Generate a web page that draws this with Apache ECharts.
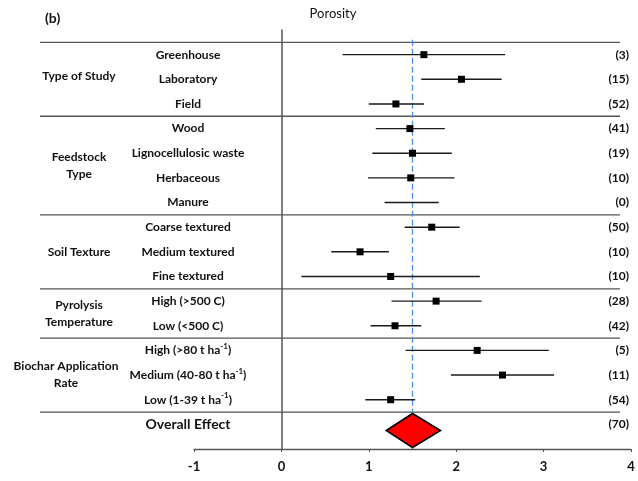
<!DOCTYPE html>
<html>
<head>
<meta charset="utf-8">
<script src="https://cdn.jsdelivr.net/npm/echarts@6/dist/echarts.min.js"></script>
<style>
  html, body { margin: 0; padding: 0; background: #fff; }
  #chart { width: 638px; height: 481px; }
</style>
</head>
<body>
<div id="chart"></div>
<script>
// subgroup rows, top to bottom
const rows = [
  'Greenhouse', 'Laboratory', 'Field',
  'Wood', 'Lignocellulosic waste', 'Herbaceous', 'Manure',
  'Coarse textured', 'Medium textured', 'Fine textured',
  'High (>500 C)', 'Low (<500 C)',
  'High (>80 t ha{sup|-1})', 'Medium (40-80 t ha{sup|-1})', 'Low (1-39 t ha{sup|-1})'
];
const means = [1.63, 2.06, 1.31, 1.47, 1.50, 1.48, null, 1.72, 0.90, 1.25, 1.77, 1.30, 2.24, 2.53, 1.25];
const lower = [0.70, 1.60, 1.00, 1.08, 1.04, 0.99, 1.18, 1.41, 0.57, 0.23, 1.26, 1.02, 1.42, 1.94, 0.96];
const upper = [2.56, 2.52, 1.63, 1.87, 1.95, 1.98, 1.80, 2.04, 1.23, 2.27, 2.29, 1.60, 3.06, 3.12, 1.53];
const counts = [3, 15, 52, 41, 19, 10, 0, 50, 10, 10, 28, 42, 5, 11, 54];

const overall = { mean: 1.5, lower: 1.2, upper: 1.82, n: 70 };

const groups = ['Type of Study', 'Feedstock\nType', 'Soil Texture', 'Pyrolysis\nTemperature', 'Biochar Application\nRate'];
const groupFirst = [0, 3, 7, 10, 12];
const groupLast = [2, 6, 9, 11, 14];

const xTicks = [-1, 0, 1, 2, 3, 4];

const overallRow = rows.length;
const font = 'Lato, "Liberation Sans", sans-serif';

const chart = echarts.init(document.getElementById('chart'));

const barData = rows.map((r, i) => [means[i], i, lower[i], upper[i]]);

function renderBar(params, api) {
  const row = api.value(1);
  const a = api.coord([api.value(2), row]);
  const b = api.coord([api.value(3), row]);
  const children = [{
    type: 'line',
    shape: { x1: a[0], y1: a[1], x2: b[0], y2: b[1] },
    style: { stroke: '#1a1a1a', lineWidth: 1.4 }
  }];
  const m = api.value(0);
  if (!isNaN(m)) {
    const c = api.coord([m, row]);
    children.push({
      type: 'rect',
      shape: { x: c[0] - 3.5, y: c[1] - 3.5, width: 7, height: 7 },
      style: { fill: '#000' }
    });
  }
  return { type: 'group', children };
}

function renderDiamond(params, api) {
  const row = api.value(1);
  const c = api.coord([api.value(0), row]);
  const l = api.coord([api.value(2), row]);
  const r = api.coord([api.value(3), row]);
  const h = api.size([0, 0.69])[1];
  return {
    type: 'polygon',
    shape: { points: [[l[0], c[1]], [c[0], c[1] - h], [r[0], c[1]], [c[0], c[1] + h]] },
    style: { fill: '#ff0000', stroke: '#000', lineWidth: 1.6 }
  };
}

const option = {
  animation: false,
  textStyle: { fontFamily: font },
  grid: { left: 194, right: 7, top: 30, bottom: 32, containLabel: false },
  xAxis: {
    type: 'value',
    min: -1, max: 4, interval: 1,
    axisLine: { onZero: false, lineStyle: { color: '#555', width: 1.3 } },
    axisTick: { inside: false, length: 3, lineStyle: { color: '#555' } },
    axisLabel: { color: '#111', fontWeight: 'bold', fontSize: 13, margin: 11,
      formatter: v => xTicks.includes(v) ? String(v) : '' },
    splitLine: { show: false }
  },
  yAxis: [{
    type: 'value',
    inverse: true,
    min: -1, max: 16, interval: 1,
    axisLine: { onZero: true, lineStyle: { color: '#555', width: 1.5 } },
    axisTick: { show: false },
    splitLine: { show: false },
    axisLabel: {
      align: 'center',
      margin: 6,
      color: '#111',
      fontSize: 12,
      fontWeight: 'bold',
      formatter: v => {
        if (v === overallRow) return '{big|Overall Effect}';
        return rows[v] !== undefined ? rows[v] : '';
      },
      rich: {
        sup: { fontSize: 8, fontWeight: 'bold', color: '#111', verticalAlign: 'top', lineHeight: 16, padding: [0, 0, 6, 0] },
        big: { fontSize: 14, fontWeight: 'bold', color: '#111' }
      }
    }
  }, {
    type: 'value',
    position: 'right',
    inverse: true,
    min: -1, max: 16, interval: 1,
    axisLine: { show: false },
    axisTick: { show: false },
    splitLine: { show: false },
    axisLabel: {
      inside: true,
      margin: 2,
      color: '#111',
      fontSize: 12,
      fontWeight: 'bold',
      formatter: v => {
        if (v === overallRow) return '(' + overall.n + ')';
        return counts[v] !== undefined ? '(' + counts[v] + ')' : '';
      }
    }
  }],
  series: [{
    type: 'line',
    yAxisIndex: 0,
    data: [[overall.mean, -0.6], [overall.mean, 16]],
    symbol: 'none',
    lineStyle: { color: '#4a8fe7', width: 1.3, type: [6, 3] },
    z: 1
  }, {
    type: 'custom',
    yAxisIndex: 0,
    renderItem: renderBar,
    encode: { x: [2, 3], y: 1 },
    data: barData,
    z: 3
  }, {
    type: 'custom',
    yAxisIndex: 0,
    renderItem: renderDiamond,
    encode: { x: [2, 3], y: 1 },
    data: [[overall.mean, overallRow + 0.25, overall.lower, overall.upper]],
    z: 4
  }]
};

chart.setOption(option);

// separators, group labels and titles placed from the axes
const separators = [-0.5].concat(groupLast.map(g => g + 0.5));
const graphics = [];
separators.forEach(s => {
  const y = chart.convertToPixel({ yAxisIndex: 0 }, s);
  graphics.push({
    type: 'line',
    shape: { x1: 40, y1: y, x2: 620, y2: y },
    style: { stroke: '#555', lineWidth: 1.3 },
    silent: true
  });
});
groups.forEach((g, i) => {
  const y = chart.convertToPixel({ yAxisIndex: 0 }, (groupFirst[i] + groupLast[i]) / 2);
  graphics.push({
    type: 'text',
    x: i === 4 ? 66 : 79,
    y: i === 0 ? y - 3 : y,
    style: {
      text: g,
      font: 'bold 12px ' + font,
      fill: '#111',
      align: 'center',
      verticalAlign: 'middle',
      lineHeight: 17
    }
  });
});
graphics.push({
  type: 'text', x: 333, y: 14,
  style: { text: 'Porosity', font: '13px ' + font, fill: '#111', align: 'center', verticalAlign: 'middle' }
});
graphics.push({
  type: 'text', x: 45, y: 18,
  style: { text: '(b)', font: 'bold 14px ' + font, fill: '#111', align: 'left', verticalAlign: 'middle' }
});
chart.setOption({ graphic: graphics });

window.addEventListener('resize', () => chart.resize());
</script>
</body>
</html>
